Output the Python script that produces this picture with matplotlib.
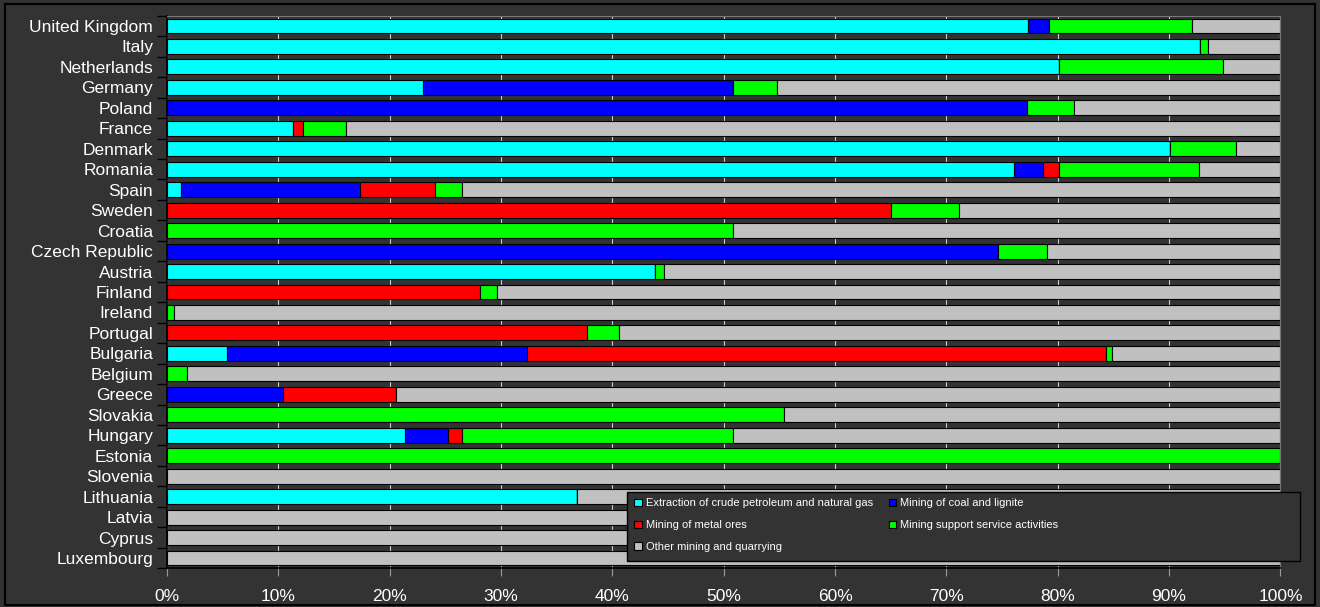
import matplotlib

matplotlib.use("Agg")
import matplotlib.pyplot as plt
import numpy as np
from matplotlib.ticker import PercentFormatter

countries = [
    "United Kingdom", "Italy", "Netherlands", "Germany", "Poland", "France",
    "Denmark", "Romania", "Spain", "Sweden", "Croatia", "Czech Republic",
    "Austria", "Finland", "Ireland", "Portugal", "Bulgaria", "Belgium",
    "Greece", "Slovakia", "Hungary", "Estonia", "Slovenia", "Lithuania",
    "Latvia", "Cyprus", "Luxembourg",
]

# shares in %
petroleum = [77.3, 92.8, 80.1, 23.0, 0, 11.3, 90.1, 76.1, 1.3, 0, 0, 0,
             43.8, 0, 0, 0, 5.4, 0, 0, 0, 21.4, 0, 0, 36.8, 0, 0, 0]
coal = [1.9, 0, 0, 27.8, 77.2, 0, 0, 2.6, 16.0, 0, 0, 74.6,
        0, 0, 0, 0, 26.9, 0, 10.4, 0, 3.8, 0, 0, 0, 0, 0, 0]
metal = [0, 0, 0, 0, 0, 0.9, 0, 1.4, 6.8, 65.0, 0, 0,
         0, 28.1, 0, 37.7, 52.0, 0, 10.2, 0, 1.3, 0, 0, 0, 0, 0, 0]
support = [12.9, 0.7, 14.7, 4.0, 4.3, 3.9, 5.9, 12.6, 2.4, 6.1, 50.8, 4.4,
           0.8, 1.5, 0.6, 2.9, 0.6, 1.8, 0, 55.4, 24.3, 100, 0, 0, 0, 0, 0]

series_names = [
    "Extraction of crude petroleum and natural gas",
    "Mining of coal and lignite",
    "Mining of metal ores",
    "Mining support service activities",
    "Other mining and quarrying",
]
colors = ["#00FFFF", "#0000FF", "#FF0000", "#00FF00", "#C0C0C0"]

other = [100 - a - b - c - d for a, b, c, d in zip(petroleum, coal, metal, support)]
series = [petroleum, coal, metal, support, other]

plt.rcParams["font.family"] = ["Liberation Sans", "DejaVu Sans"]

bg = "#333333"
fig = plt.figure(figsize=(13.2, 6.07), dpi=100, facecolor=bg)
fig.patches.append(plt.Rectangle((0.004, 0.004), 0.992, 0.99, transform=fig.transFigure,
                                 fill=False, edgecolor="black", linewidth=1.5))
ax = fig.add_axes([0.1265, 0.0639, 0.8435, 0.9101])
ax.set_facecolor(bg)

y = np.arange(len(countries))
left = np.zeros(len(countries))
bars = []
for name, vals, col in zip(series_names, series, colors):
    vals = np.array(vals, dtype=float)
    b = ax.barh(y, vals, left=left, height=0.73, color=col, edgecolor="black",
                linewidth=0.8, label=name, zorder=3)
    bars.append(b)
    left += vals

ax.set_xlim(0, 100)
ax.set_ylim(len(countries) - 0.5, -0.5)
ax.xaxis.set_major_formatter(PercentFormatter(decimals=0))
ax.set_xticks(np.arange(0, 101, 10))
ax.set_yticks(y)
ax.set_yticklabels(countries)
ax.set_yticks(np.arange(-0.5, len(countries), 1), minor=True)
ax.tick_params(axis="y", which="major", length=0, pad=10, labelsize=12.5, labelcolor="white")
ax.tick_params(axis="y", which="minor", length=7, color="black", width=1)
ax.tick_params(axis="x", length=6, color="#999999", labelsize=12.5, labelcolor="white", pad=9)
ax.grid(axis="x", color="#c8c8c8", linewidth=0.8, zorder=0)

for side in ["top", "right"]:
    ax.spines[side].set_color("#777777")
for side in ["left", "bottom"]:
    ax.spines[side].set_color("black")
    ax.spines[side].set_linewidth(1.2)

# legend box is wider than its entries, so draw the frame separately
fig.patches.append(plt.Rectangle((0.475, 0.0758), 0.5098, 0.1137, transform=fig.transFigure,
                                 facecolor=bg, edgecolor="black", linewidth=1, zorder=2))

# row-wise legend order: matplotlib fills columns first
order = [0, 2, 4, 1, 3]
leg = fig.legend(
    [bars[i] for i in order], [series_names[i] for i in order],
    loc="upper left", bbox_to_anchor=(0.4805, 0.179),
    ncol=2, fontsize=8.0, frameon=False,
    handlelength=0.68, handleheight=0.68, handletextpad=0.38, borderaxespad=0,
    labelspacing=1.07, columnspacing=1.4, borderpad=0,
)
for t in leg.get_texts():
    t.set_color("white")

fig.savefig("out.png", dpi=100, facecolor=bg)
